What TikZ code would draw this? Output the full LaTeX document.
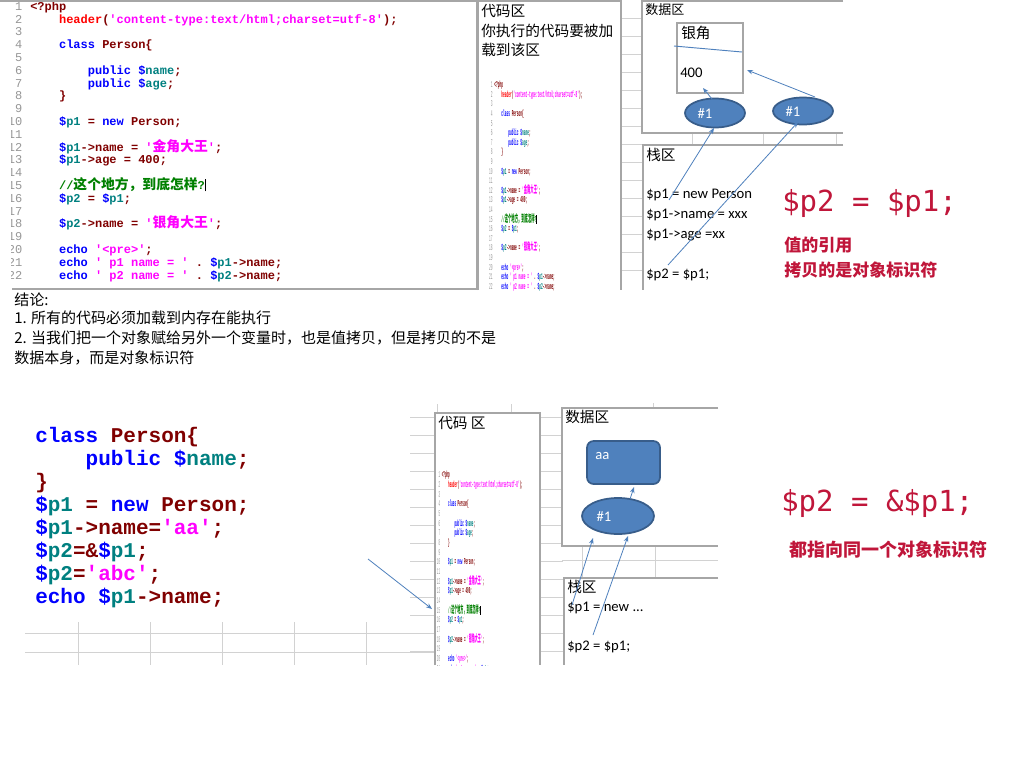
\documentclass[tikz,border=0pt]{standalone}
\usepackage{fontspec}
\usepackage{graphicx}
\usetikzlibrary{arrows.meta,shapes.geometric}
\setmainfont{Carlito}
\setmonofont{Liberation Mono}
\newfontfamily\cjk{Noto Sans CJK SC}
\newfontfamily\cjkc{Noto Sans CJK SC}[Scale=1.15]
\newfontfamily\rmono{DejaVu Sans Mono}
\definecolor{cblue}{RGB}{0,0,255}
\definecolor{cteal}{RGB}{0,128,128}
\definecolor{cdred}{RGB}{128,0,0}
\definecolor{cmag}{RGB}{255,0,255}
\definecolor{chead}{RGB}{255,0,0}
\definecolor{cgreen}{RGB}{0,128,0}
\definecolor{lnum}{RGB}{150,150,150}
\definecolor{crim}{RGB}{192,22,58}
\definecolor{obfill}{RGB}{79,129,189}
\definecolor{obline}{RGB}{56,93,138}
\definecolor{arrc}{RGB}{79,129,189}
\definecolor{gridc}{RGB}{210,210,210}
\definecolor{boxc}{RGB}{166,166,166}
\newcommand\kB[1]{\textcolor{cblue}{#1}}
\newcommand\kT[1]{\textcolor{cteal}{#1}}
\newcommand\kR[1]{\textcolor{cdred}{#1}}
\newcommand\kM[1]{\textcolor{cmag}{#1}}
\newcommand\kH[1]{\textcolor{chead}{#1}}
\newcommand\kG[1]{\textcolor{cgreen}{#1}}
\newlength\indw \setlength\indw{21.6pt}
\newcommand\ind{\hspace*{\indw}}
\newcommand\cl[2]{\hbox{\hbox to 16.5pt{\hfil{\mdseries\color{lnum}#1}}\hspace*{6pt}\vrule height 7.5pt depth 2.1pt width 0pt\relax #2}}
\newcommand\codeblock{\vbox{\ttfamily\bfseries\fontsize{9pt}{9.6pt}\selectfont\baselineskip=9.6pt\lineskiplimit=-50pt\lineskip=0pt
\cl{1}{\kR{<?php}}
\cl{2}{\ind\kH{header}\kR{(}\kM{'content-type:text/html;charset=utf-8'}\kR{);}}
\cl{3}{}
\cl{4}{\ind\kB{class} \kR{Person\{}}
\cl{5}{}
\cl{6}{\ind\ind\kB{public} \kB{\$}\kT{name}\kR{;}}
\cl{7}{\ind\ind\kB{public} \kB{\$}\kT{age}\kR{;}}
\cl{8}{\ind\kR{\}}}
\cl{9}{}
\cl{10}{\ind\kB{\$}\kT{p1} \kR{=} \kB{new} \kR{Person;}}
\cl{11}{}
\cl{12}{\ind\kB{\$}\kT{p1}\kR{->name =} \kM{'{\cjkc 金角大王}'}\kR{;}}
\cl{13}{\ind\kB{\$}\kT{p1}\kR{->age = 400;}}
\cl{14}{}
\cl{15}{\ind\kG{//{\cjkc 这个地方，到底怎样}?}{\color{black}\vrule width 0.5pt height 7.5pt depth 1.5pt}}
\cl{16}{\ind\kB{\$}\kT{p2} \kR{=} \kB{\$}\kT{p1}\kR{;}}
\cl{17}{}
\cl{18}{\ind\kB{\$}\kT{p2}\kR{->name =} \kM{'{\cjkc 银角大王}'}\kR{;}}
\cl{19}{}
\cl{20}{\ind\kB{echo} \kM{'<pre>'}\kR{;}}
\cl{21}{\ind\kB{echo} \kM{' p1 name = '} \kR{.} \kB{\$}\kT{p1}\kR{->name;}}
\cl{22}{\ind\kB{echo} \kM{' p2 name = '} \kR{.} \kB{\$}\kT{p2}\kR{->name;}}
}}
\begin{document}
\begin{tikzpicture}[x=0.75pt,y=-0.75pt,
  gridline/.style={draw=gridc,line width=0.75pt},
  boxline/.style={draw=boxc,line width=0.9pt},
  lblcjk/.style={font=\cjk\fontsize{11}{13}\selectfont,inner sep=0,anchor=west},
  lblsmall/.style={font=\cjk\fontsize{9.75}{12}\selectfont,inner sep=0,anchor=west},
  stacktxt/.style={font=\fontsize{11}{13}\selectfont,inner sep=0,anchor=west},
  ell/.style={ellipse,draw=obline,line width=1.3pt,fill=obfill,inner sep=0},
  hashlbl/.style={font=\fontsize{11}{13}\selectfont,text=white,inner sep=0},
  arr/.style={draw=arrc,line width=0.6pt,-{Stealth[length=4.5pt,width=3.5pt]}},
  thinblue/.style={draw=arrc,line width=0.7pt},
  redcode/.style={font=\rmono\fontsize{21.75}{24}\selectfont,text=crim,inner sep=0,anchor=west},
  redcjk/.style={font=\cjk\bfseries\fontsize{12.75}{15}\selectfont,text=crim,inner sep=0,anchor=west},
  bigcode/.style={font=\ttfamily\bfseries\fontsize{15.75}{17}\selectfont,inner sep=0,anchor=base west},
  concl/.style={font=\cjk\fontsize{11.25}{13}\selectfont,inner sep=0,anchor=west}]
\useasboundingbox (0,0) rectangle (1024,768);
\fill[white] (0,0) rectangle (1024,768);

% ---------- top section: grid ----------
\foreach \k in {0,...,14} {\draw[gridline] (621,{18+18.07*\k}) -- (642,{18+18.07*\k});}
\draw[gridline] (692,133)--(692,145) (763,133)--(763,145) (836,133)--(836,145);

% code screenshot
\begin{scope}
\clip (11,0) rectangle (478,289);
\node[anchor=north west,inner sep=0] (code) at (0,0) {\codeblock};
\end{scope}
\draw[boxline] (0,1) -- (477,1) -- (477,289) -- (12,289);

% code area
\draw[boxline] (478,290) -- (478,1) -- (621,1) -- (621,290);
\node[lblcjk] (cat) at (481,11) {代码区};
\node[lblcjk] (cal1) at (481,31) {你执行的代码要被加};
\node[lblcjk] (cal2) at (481,50) {载到该区};
\begin{scope}
\clip (479,62) rectangle (620,290);
\node[anchor=north west,inner sep=0] (mini1) at (487,80) {\scalebox{0.24}[0.75]{\codeblock}};
\end{scope}

% data area
\draw[boxline] (843,1) -- (642,1) -- (642,133) -- (843,133);
\node[lblsmall] (dat) at (645,10) {数据区};
\node[draw=boxc,line width=0.9pt,minimum width=49.5pt,minimum height=52.5pt,inner sep=0] (obj) at (710,58) {};
\node[lblcjk] (objn) at (681,33) {银角};
\node[stacktxt] (obja) at (680,73) {400};
\coordinate (x1) at (674,46);
\coordinate (x2) at (742,52);
\draw[thinblue] (x1) -- (x2);
\node[ell,minimum width=45pt,minimum height=21.75pt] (e1) at (715,113) {};
\node[hashlbl] (e1t) at (705,114) {\#1};
\node[ell,minimum width=45pt,minimum height=20.25pt] (e2) at (803,111) {};
\node[hashlbl] (e2t) at (793,112) {\#1};

% stack area
\draw[boxline] (843,145) -- (643,145) -- (643,290);
\node[lblcjk] (st) at (646,155) {栈区};
\node[stacktxt] (s1) at (646,195) {\$p1 = new Person};
\node[stacktxt] (s2) at (646,215) {\$p1->name = xxx};
\node[stacktxt] (s3) at (646,235) {\$p1->age =xx};
\node[stacktxt] (s4) at (646,275) {\$p2 = \$p1;};

% arrows top
\coordinate (a1s) at (669,200); \coordinate (a1e) at (714,128);
\coordinate (a2s) at (668,265); \coordinate (a2e) at (798,122);
\coordinate (a3s) at (712,99);  \coordinate (a3e) at (703,88);
\coordinate (a4s) at (815,97);  \coordinate (a4e) at (747,70);
\draw[arr] (a1s) -- (a1e);
\draw[arr] (a2s) -- (a2e);
\draw[arr] (a3s) -- (a3e);
\draw[arr] (a4s) -- (a4e);

% red notes top
\node[redcode] (r1) at (782,203) {\$p2 = \$p1;};
\node[redcjk] (r2) at (784,245) {值的引用};
\node[redcjk] (r3) at (784,270) {拷贝的是对象标识符};

% conclusion
\node[concl] (k0) at (14,300) {结论:};
\node[concl] (k1) at (14,318) {1. 所有的代码必须加载到内存在能执行};
\node[concl] (k2) at (14,338) {2. 当我们把一个对象赋给另外一个变量时，也是值拷贝，但是拷贝的不是};
\node[concl] (k3) at (14,358) {数据本身，而是对象标识符};

% ---------- bottom section: grid ----------
\foreach \k in {0,...,13} {
  \draw[gridline] (410,{417+18.05*\k}) -- (435,{417+18.05*\k});
  \draw[gridline] (540,{417+18.05*\k}) -- (563,{417+18.05*\k});
}
\draw[gridline] (562,560) -- (718,560) (582,546) -- (582,578) (655,546) -- (655,578);
\draw[gridline] (25,633) -- (435,633) (25,652) -- (435,652);
\foreach \xx in {78,150,222,294,366} {\draw[gridline] (\xx,622) -- (\xx,665);}
\draw[gridline] (437,404) -- (437,413) (511,404) -- (511,413) (653,403) -- (653,408);

% big code
\node[bigcode] (c1) at (35,442) {\kB{class} \kR{Person\{}};
\node[bigcode] (c2) at (35,465) {\hspace*{37.8pt}\kB{public} \kB{\$}\kT{name}\kR{;}};
\node[bigcode] (c3) at (35,488) {\kR{\}}};
\node[bigcode] (c4) at (35,511) {\kB{\$}\kT{p1} \kR{=} \kB{new} \kR{Person;}};
\node[bigcode] (c5) at (35,534) {\kB{\$}\kT{p1}\kR{->name=}\kM{'aa'}\kR{;}};
\node[bigcode] (c6) at (35,557) {\kB{\$}\kT{p2}\kR{=\&}\kB{\$}\kT{p1}\kR{;}};
\node[bigcode] (c7) at (35,580) {\kB{\$}\kT{p2}\kR{=}\kM{'abc'}\kR{;}};
\node[bigcode] (c8) at (35,603) {\kB{echo} \kB{\$}\kT{p1}\kR{->name;}};

% code area bottom
\draw[boxline] (435,665) -- (435,413) -- (540,413) -- (540,665);
\node[lblcjk] (cbt) at (438,423) {代码 区};
\begin{scope}
\clip (436,440) rectangle (539,665);
\node[anchor=north west,inner sep=0] (mini2) at (435,470) {\scalebox{0.22}[0.755]{\codeblock}};
\end{scope}

% data area bottom
\draw[boxline] (718,408) -- (562,408) -- (562,546) -- (718,546);
\node[lblcjk] (dbt) at (565,417) {数据区};
\node[draw=obline,line width=1.3pt,fill=obfill,rounded corners=5pt,minimum width=54.75pt,minimum height=32.25pt,inner sep=0] (aa) at (623.5,462.5) {};
\node[hashlbl,anchor=west] (aat) at (595,456) {aa};
\node[ell,minimum width=54pt,minimum height=27pt] (e3) at (618,516) {};
\node[hashlbl] (e3t) at (604,517) {\#1};

% stack area bottom
\draw[boxline] (718,578) -- (564,578) -- (564,665);
\node[lblcjk] (sbt) at (567,587) {栈区};
\node[stacktxt] (sb1) at (567,608) {\$p1 = new ...};
\node[stacktxt] (sb2) at (567,647) {\$p2 = \$p1;};

% arrows bottom
\coordinate (b1s) at (368,559); \coordinate (b1e) at (432,609);
\coordinate (b2s) at (572,605); \coordinate (b2e) at (593,538);
\coordinate (b3s) at (593,635); \coordinate (b3e) at (628,536);
\coordinate (b4s) at (630,499); \coordinate (b4e) at (634,487);
\draw[arr] (b1s) -- (b1e);
\draw[arr] (b2s) -- (b2e);
\draw[arr] (b3s) -- (b3e);
\draw[arr] (b4s) -- (b4e);

% red notes bottom
\node[redcode] (r4) at (781,503) {\$p2 = \&\$p1;};
\node[redcjk,font=\cjk\bfseries\fontsize{13.5}{16}\selectfont] (r5) at (789,550) {都指向同一个对象标识符};
\end{tikzpicture}
\end{document}
